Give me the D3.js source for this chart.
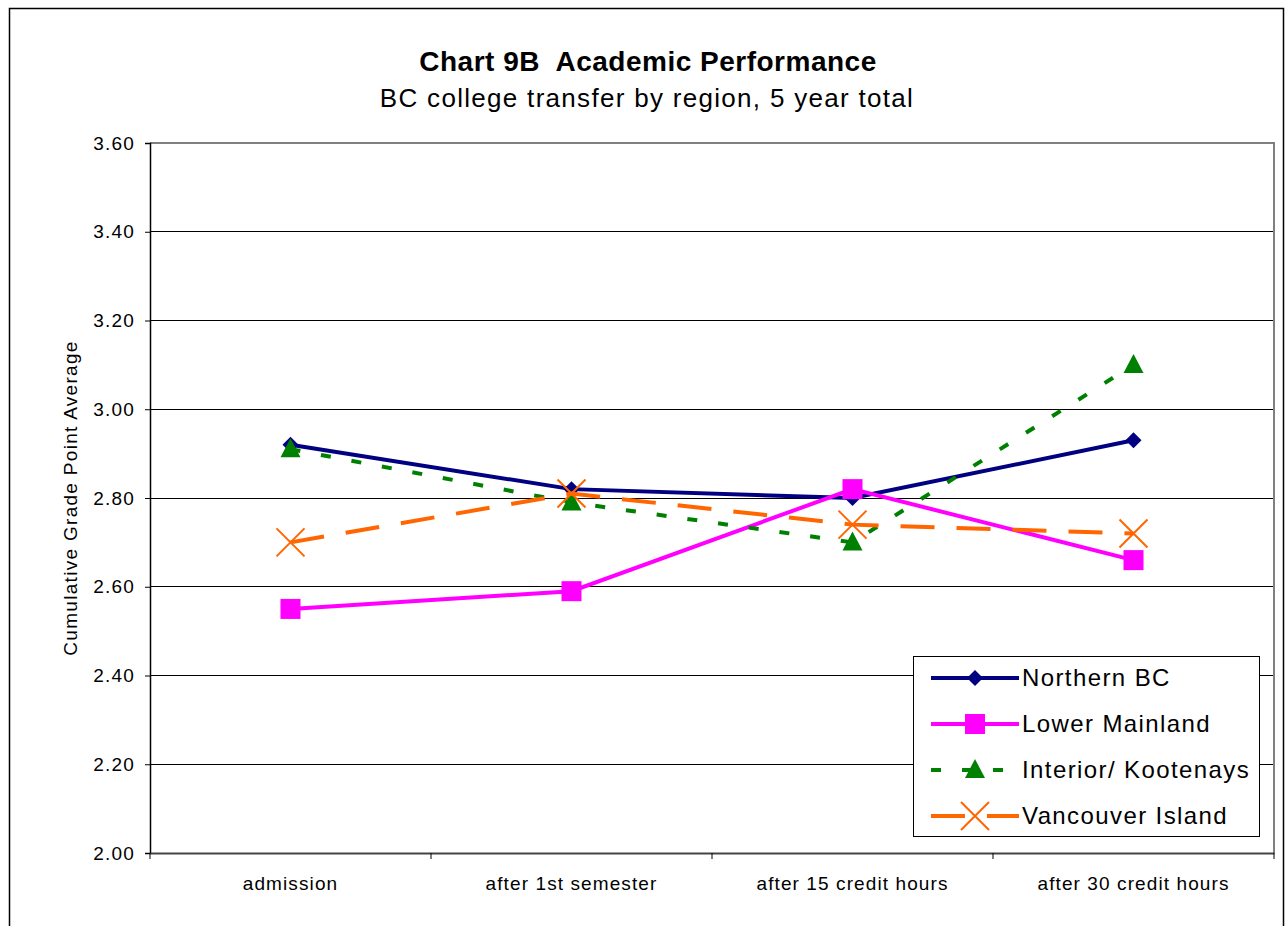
<!DOCTYPE html>
<html>
<head>
<meta charset="utf-8">
<script src="https://cdn.jsdelivr.net/npm/d3@7"></script>
<style>
  body { margin: 0; background: #fff; }
  svg { display: block; font-family: "Liberation Sans", Arial, sans-serif; }
</style>
</head>
<body>
<div id="chart"></div>
<script>
const categories = ['admission', 'after 1st semester', 'after 15 credit hours', 'after 30 credit hours']
const yTicks = [2.0, 2.2, 2.4, 2.6, 2.8, 3.0, 3.2, 3.4, 3.6]

const northernBC = [2.92, 2.82, 2.80, 2.93]
const lowerMainland = [2.55, 2.59, 2.82, 2.66]
const interiorKootenays = [2.91, 2.79, 2.70, 3.10]
const vancouverIsland = [2.70, 2.81, 2.74, 2.72]

const series = [
  { name: 'Northern BC', values: northernBC, color: '#000080', dash: null, marker: 'diamond' },
  { name: 'Lower Mainland', values: lowerMainland, color: '#ff00ff', dash: null, marker: 'square' },
  { name: 'Interior/ Kootenays', values: interiorKootenays, color: '#008000', dash: '10,21', marker: 'triangle' },
  { name: 'Vancouver Island', values: vancouverIsland, color: '#ff6600', dash: '34,22', marker: 'x' }
]

const width = 1286, height = 926
const plot = { left: 150, right: 1274, top: 143, bottom: 853 }

const svg = d3.select('#chart').append('svg')
  .attr('width', width)
  .attr('height', height)

// outer frame (bottom edge off the page)
svg.append('path')
  .attr('d', `M9.5,${height + 2}V8.5H1283.5V${height + 2}`)
  .attr('fill', 'none')
  .attr('stroke', '#000')
  .attr('stroke-width', 1.5)

const x = d3.scaleBand()
  .domain(categories)
  .range([plot.left, plot.right])

const y = d3.scaleLinear()
  .domain([2.0, 3.6])
  .range([plot.bottom, plot.top])

// gridlines
svg.append('g')
  .selectAll('line')
  .data(yTicks.slice(1))
  .enter()
  .append('line')
  .attr('x1', plot.left).attr('x2', plot.right)
  .attr('y1', d => y(d)).attr('y2', d => y(d))
  .attr('stroke', '#000')
  .attr('stroke-width', 1)
  .attr('shape-rendering', 'crispEdges')

// plot border (grey)
svg.append('path')
  .attr('d', `M${plot.left},${plot.top}H${plot.right}V${plot.bottom}`)
  .attr('fill', 'none')
  .attr('stroke', '#808080')
  .attr('stroke-width', 2)

// y axis
const yAxis = svg.append('g')
  .attr('transform', `translate(${plot.left},0)`)
  .call(d3.axisLeft(y).tickValues(yTicks).tickFormat(d3.format('.2f')).tickSize(5).tickPadding(10))
yAxis.select('.domain').attr('stroke', '#000').attr('stroke-width', 1.5)
yAxis.selectAll('.tick line').attr('stroke', '#000')
yAxis.selectAll('text')
  .attr('font-size', 19)
  .attr('letter-spacing', 1.2)
  .attr('fill', '#000')
  .attr('font-family', '"Liberation Sans", Arial, sans-serif')

// x axis
const xAxis = svg.append('g')
  .attr('transform', `translate(0,${plot.bottom})`)
  .call(d3.axisBottom(x).tickSize(0).tickPadding(24))
xAxis.select('.domain').attr('stroke', '#444').attr('stroke-width', 2)
xAxis.selectAll('text')
  .attr('font-size', 19)
  .attr('letter-spacing', 1.1)
  .attr('fill', '#000')
  .attr('font-family', '"Liberation Sans", Arial, sans-serif')

// category separator ticks
svg.append('g')
  .selectAll('line')
  .data(d3.range(categories.length + 1))
  .enter()
  .append('line')
  .attr('x1', i => plot.left + i * x.step())
  .attr('x2', i => plot.left + i * x.step())
  .attr('y1', plot.bottom)
  .attr('y2', plot.bottom + 6)
  .attr('stroke', '#000')

// titles
svg.append('text')
  .attr('x', 648).attr('y', 71)
  .attr('text-anchor', 'middle')
  .attr('font-size', 28)
  .attr('font-weight', 'bold')
  .attr('letter-spacing', 0.5)
  .style('white-space', 'pre')
  .text('Chart 9B  Academic Performance')

svg.append('text')
  .attr('x', 647).attr('y', 107)
  .attr('text-anchor', 'middle')
  .attr('font-size', 26)
  .attr('letter-spacing', 1.3)
  .text('BC college transfer by region, 5 year total')

svg.append('text')
  .attr('transform', `translate(77,${(plot.top + plot.bottom) / 2}) rotate(-90)`)
  .attr('text-anchor', 'middle')
  .attr('font-size', 19)
  .attr('letter-spacing', 1.3)
  .text('Cumulative Grade Point Average')

const xc = d => x(d) + x.bandwidth() / 2

const drawMarker = (g, type, color) => {
  if (type === 'diamond') {
    g.append('path').attr('d', 'M0,-8L8,0L0,8L-8,0Z').attr('fill', color)
  } else if (type === 'square') {
    g.append('rect').attr('x', -10).attr('y', -10).attr('width', 20).attr('height', 20).attr('fill', color)
  } else if (type === 'triangle') {
    g.append('path').attr('d', 'M0,-11L10,8L-10,8Z').attr('fill', color)
  } else if (type === 'x') {
    g.append('path').attr('d', 'M-14,-14L14,14M-14,14L14,-14').attr('stroke', color).attr('stroke-width', 2)
  }
}

const line = d3.line()
  .x((d, i) => xc(categories[i]))
  .y(d => y(d))

series.forEach(s => {
  let g = svg.append('g')
  g.append('path')
    .datum(s.values)
    .attr('d', line)
    .attr('fill', 'none')
    .attr('stroke', s.color)
    .attr('stroke-width', 4)
    .attr('stroke-dasharray', s.dash)

  s.values.forEach((v, i) => {
    let m = g.append('g').attr('transform', `translate(${xc(categories[i])},${y(v)})`)
    drawMarker(m, s.marker, s.color)
  })
})

// legend
const legend = svg.append('g').attr('transform', 'translate(913,656)')
legend.append('rect')
  .attr('x', 0.5).attr('y', 0.5)
  .attr('width', 346).attr('height', 180)
  .attr('fill', '#fff')
  .attr('stroke', '#000')
  .attr('stroke-width', 1)

series.forEach((s, i) => {
  let row = legend.append('g').attr('transform', `translate(0,${22 + i * 46})`)
  row.append('line')
    .attr('x1', 18).attr('x2', 106)
    .attr('stroke', s.color)
    .attr('stroke-width', 4)
    .attr('stroke-dasharray', s.dash)
  let m = row.append('g').attr('transform', 'translate(62,0)')
  drawMarker(m, s.marker, s.color)
  row.append('text')
    .attr('x', 109).attr('y', 8)
    .attr('font-size', 24)
    .attr('letter-spacing', 1.4)
    .text(s.name)
})
</script>
</body>
</html>
